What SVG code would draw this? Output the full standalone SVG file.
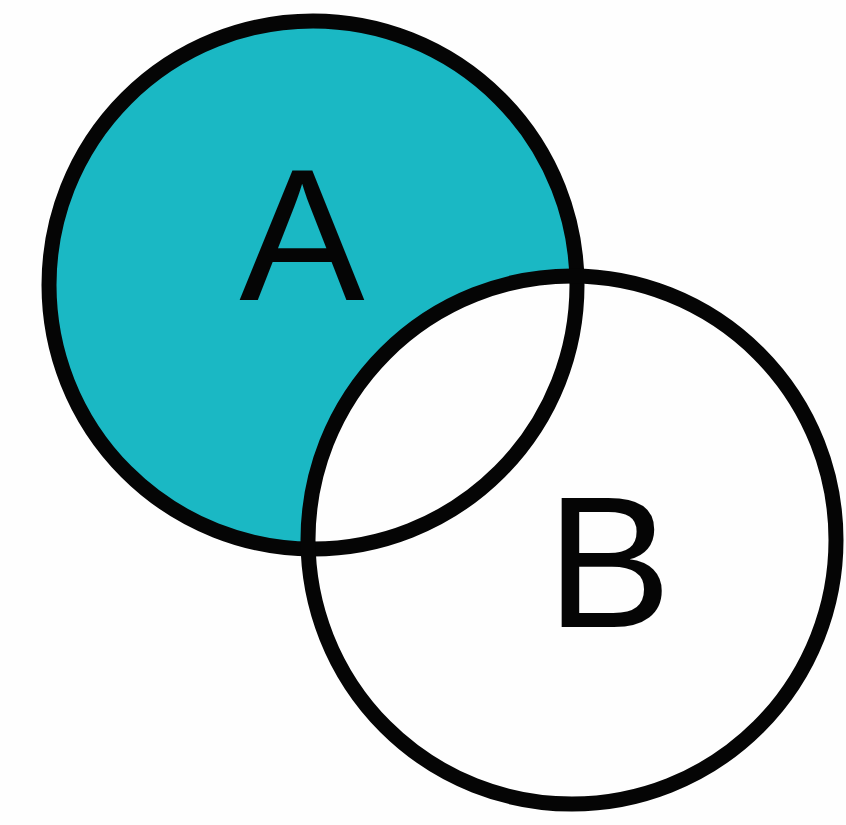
<svg xmlns="http://www.w3.org/2000/svg" width="846" height="825" viewBox="0 0 846 825">
<style>
.ring{fill:none;stroke:#050505;stroke-width:15}
.lbl{font-family:"Liberation Sans",Arial,sans-serif;font-size:188px;fill:#050505;text-anchor:middle}
</style>
<rect width="846" height="825" fill="#fefefe"/>
<g id="fills">
<circle cx="313" cy="285" r="264" fill="#1ab8c4"/>
<circle cx="572" cy="540" r="264" fill="#fefefe"/>
</g>
<g id="setA">
<circle class="ring" cx="313" cy="285" r="264"/>
<text class="lbl" x="302" y="300">A</text>
</g>
<g id="setB">
<circle class="ring" cx="572" cy="540" r="264"/>
<text class="lbl" x="609" y="627">B</text>
</g>
</svg>
